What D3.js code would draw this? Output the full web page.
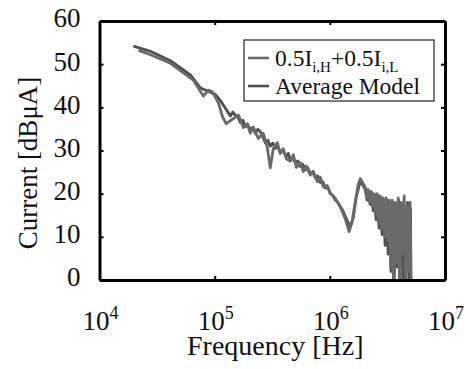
<!DOCTYPE html>
<html>
<head>
  <meta charset="utf-8">
  <title>Current spectrum</title>
  <style>
    body { margin: 0; background: #fff; }
    svg text { fill: #111; }
    .curve { fill: none; stroke-width: 2.8; stroke-linejoin: round; }
  </style>
</head>
<body>
  <div id="chart"></div>

  <script src="https://cdnjs.cloudflare.com/ajax/libs/d3/7.8.5/d3.min.js"></script>
  <script>
    // axis ticks
    const xTicks = [1e4, 1e5, 1e6, 1e7];
    const xExps = ['4', '5', '6', '7'];
    const yTicks = [0, 10, 20, 30, 40, 50, 60];

    // 0.5 I_i,H + 0.5 I_i,L  (frequency in Hz, current in dBuA)
    const freqSum = [2.18e4, 2.77e4, 4.13e4, 6.53e4, 7.98e4, 8.81e4, 9.55e4, 1.08e5, 1.17e5, 1.26e5,
      1.42e5, 1.61e5, 1.78e5, 1.92e5, 2.04e5, 2.17e5, 2.39e5, 2.64e5, 2.86e5, 3.04e5,
      3.23e5, 3.50e5, 3.71e5, 3.94e5, 4.19e5, 4.54e5, 4.82e5, 5.12e5, 5.54e5, 5.88e5,
      6.24e5, 6.76e5, 7.18e5, 7.78e5, 8.26e5, 8.77e5, 9.49e5, 1.01e6, 1.11e6, 1.23e6,
      1.36e6, 1.47e6, 1.56e6, 1.66e6, 1.76e6, 1.84e6, 1.95e6,
      2.03e6, 2.09e6, 2.15e6, 2.22e6, 2.29e6, 2.35e6, 2.43e6, 2.50e6, 2.58e6, 2.65e6,
      2.74e6, 2.82e6, 2.90e6, 2.99e6, 3.08e6, 3.18e6, 3.27e6, 3.37e6, 3.48e6, 3.58e6,
      3.69e6, 3.80e6, 3.92e6, 4.04e6, 4.16e6, 4.29e6, 4.42e6, 4.55e6, 4.69e6, 4.83e6,
      4.98e6, 5.08e6];
    const curSum = [53.2, 52.2, 50.2, 46.3, 42.6, 44, 43.6, 41, 37.8, 36.2,
      37.2, 38.2, 35.3, 36.2, 34, 35.4, 32.8, 34, 30.8, 26,
      30.5, 31.8, 29.3, 30.4, 28.1, 27.5, 29, 26.1, 27.2, 25.1,
      26.4, 24.3, 25.2, 22.8, 23.8, 21.6, 21.9, 20.1, 19, 17,
      14.2, 11.2, 13.5, 18, 22, 23.5, 22.3,
      21.5, 19, 21, 18, 20.5, 17, 20, 15, 20, 13,
      19.5, 12, 19, 10, 19, 9, 18.5, 3, 18.5, -3,
      18, 4, 19, -3, 18, 6, 19.5, -3, 17, 2,
      18, -3];

    // Average Model
    const freqAvg = [1.97e4, 2.77e4, 4.13e4, 6.15e4, 7.52e4, 8.30e4, 9.18e4, 1.01e5, 1.12e5, 1.24e5,
      1.37e5, 1.44e5, 1.51e5, 1.59e5, 1.67e5, 1.76e5, 1.85e5, 1.94e5, 2.04e5, 2.15e5,
      2.25e5, 2.37e5, 2.49e5, 2.64e5, 2.75e5, 2.90e5, 3.04e5, 3.20e5, 3.36e5, 3.53e5,
      3.71e5, 3.90e5, 4.19e5, 4.36e5, 4.54e5, 4.77e5, 5.01e5, 5.27e5, 5.54e5, 5.82e5,
      6.12e5, 6.43e5, 6.76e5, 7.10e5, 7.47e5, 7.85e5, 8.26e5, 8.68e5, 9.12e5, 9.60e5,
      1.01e6, 1.06e6, 1.11e6, 1.17e6, 1.23e6, 1.29e6, 1.36e6, 1.43e6, 1.50e6, 1.60e6,
      1.69e6, 1.84e6, 2.03e6,
      2.11e6, 2.17e6, 2.24e6, 2.31e6, 2.38e6, 2.45e6, 2.52e6, 2.60e6, 2.68e6, 2.76e6,
      2.84e6, 2.93e6, 3.02e6, 3.11e6, 3.21e6, 3.30e6, 3.40e6, 3.51e6, 3.61e6, 3.72e6,
      3.84e6, 3.95e6, 4.07e6, 4.20e6, 4.32e6, 4.46e6, 4.59e6, 4.73e6, 4.88e6, 5.02e6,
      5.06e6];
    const curAvg = [54.2, 53, 50.8, 47.5, 44.5, 44, 43.5, 43, 41.6, 39.8,
      38, 38.9, 38.2, 37.8, 36.5, 37, 35.5, 36, 34.8, 35.4,
      34, 34.9, 34.4, 33, 31.8, 32.4, 31, 31.7, 30.5, 31,
      29.6, 30, 28.6, 29.3, 27.8, 28.3, 27.2, 27.6, 26.3, 26.8,
      25.5, 26, 24.6, 25, 23.8, 24.1, 22.6, 22.8, 21.3, 21.4,
      20, 19.6, 18.6, 18, 17, 16.2, 14.8, 13.5, 12.3, 14.5,
      19, 23, 21,
      18.5, 20.5, 17.5, 20, 16, 19.5, 14, 19.5, 12, 19,
      10.5, 18.5, 8, 18.5, 6, 18, 2, 18, -3, 17.5,
      3, 18.5, 5, 17.5, -3, 17, 4, 18, -3, 16.5,
      -3];

    const seriesNames = ['0.5I|i,H|+0.5I|i,L', 'Average Model'];
    const seriesColors = ['#6a6a6a', '#505050'];

    const serif = '"Liberation Serif", "DejaVu Serif", "Times New Roman", Times, serif';

    const W = 473, H = 369;
    const margin = { top: 21, right: 28, bottom: 89, left: 99.5 };
    const width = W - margin.left - margin.right,
      height = H - margin.top - margin.bottom;

    const svg = d3.select('#chart').append('svg')
      .attr('width', W)
      .attr('height', H)
      .attr('font-family', serif);

    const g = svg.append('g')
      .attr('transform', `translate(${margin.left}, ${margin.top})`);

    const x = d3.scaleLog().domain([1e4, 1e7]).range([0, width]);
    const y = d3.scaleLinear().domain([0, 60]).range([height, 0]);

    g.append('clipPath').attr('id', 'plot-clip')
      .append('rect').attr('width', width).attr('height', height);

    const line = d3.line()
      .x(d => x(d[0]))
      .y(d => y(d[1]));

    const sumData = freqSum.map((f, i) => [f, curSum[i]]);
    const avgData = freqAvg.map((f, i) => [f, curAvg[i]]);

    const curves = g.append('g').attr('clip-path', 'url(#plot-clip)');
    curves.append('path').datum(avgData)
      .attr('class', 'curve').attr('stroke', seriesColors[1]).attr('d', line);
    curves.append('path').datum(sumData)
      .attr('class', 'curve').attr('stroke', seriesColors[0]).attr('d', line);

    // axes, inward ticks on all four sides
    function styleAxis(sel) {
      sel.select('.domain').attr('stroke', '#000').attr('stroke-width', 3);
      sel.selectAll('.tick line').attr('stroke', '#000').attr('stroke-width', 2);
      sel.selectAll('.tick text').remove();
    }
    g.append('g').attr('transform', `translate(0, ${height})`)
      .call(d3.axisBottom(x).tickValues(xTicks).tickSize(-4).tickSizeOuter(0)).call(styleAxis);
    g.append('g')
      .call(d3.axisTop(x).tickValues(xTicks).tickSize(-4).tickSizeOuter(0)).call(styleAxis);
    g.append('g')
      .call(d3.axisLeft(y).tickValues(yTicks).tickSize(-4).tickSizeOuter(0)).call(styleAxis);
    g.append('g').attr('transform', `translate(${width}, 0)`)
      .call(d3.axisRight(y).tickValues(yTicks).tickSize(-4).tickSizeOuter(0)).call(styleAxis);

    // y tick labels
    g.selectAll('.ylab').data(yTicks).enter().append('text')
      .attr('x', -19)
      .attr('y', d => y(d) - 3)
      .attr('dy', '0.35em')
      .attr('text-anchor', 'end')
      .style('font-family', serif)
      .style('font-size', '27px')
      .text(d => d);

    // x tick labels: 10 with superscript exponent
    const xl = g.selectAll('.xlab').data(xTicks).enter().append('text')
      .attr('x', d => x(d) - 17)
      .attr('y', height + 50)
      .style('font-family', serif)
      .style('font-size', '27px');
    xl.append('tspan').text('10');
    xl.append('tspan').attr('dy', -11).style('font-size', '18px')
      .text((d, i) => xExps[i]);

    // axis titles
    g.append('text')
      .attr('x', width / 2 + 3)
      .attr('y', height + 75)
      .attr('text-anchor', 'middle')
      .style('font-family', serif)
      .style('font-size', '28px')
      .text('Frequency [Hz]');

    g.append('text')
      .attr('transform', `translate(${37 - margin.left}, ${163 - margin.top}) rotate(-90)`)
      .attr('text-anchor', 'middle')
      .style('font-family', serif)
      .style('font-size', '27px')
      .text('Current [dBμA]');

    // legend
    const legend = svg.append('g').attr('transform', 'translate(244, 40)');
    legend.append('rect')
      .attr('width', 190).attr('height', 61)
      .attr('fill', '#fff').attr('stroke', '#222').attr('stroke-width', 1.2);

    seriesNames.forEach((name, i) => {
      const cy = 18 + i * 28;
      legend.append('line')
        .attr('x1', 4).attr('x2', 25)
        .attr('y1', cy).attr('y2', cy)
        .attr('stroke', seriesColors[i]).attr('stroke-width', 2.6);
      const t = legend.append('text')
        .attr('x', 31).attr('y', cy + 8)
        .style('font-family', serif)
        .style('font-size', '23.5px');
      name.split('|').forEach((part, j) => {
        const sub = j % 2 === 1;
        t.append('tspan')
          .attr('dy', j === 0 ? 0 : (sub ? 6 : -6))
          .style('font-size', sub ? '15px' : '23.5px')
          .text(part);
      });
    });
  </script>
</body>
</html>
